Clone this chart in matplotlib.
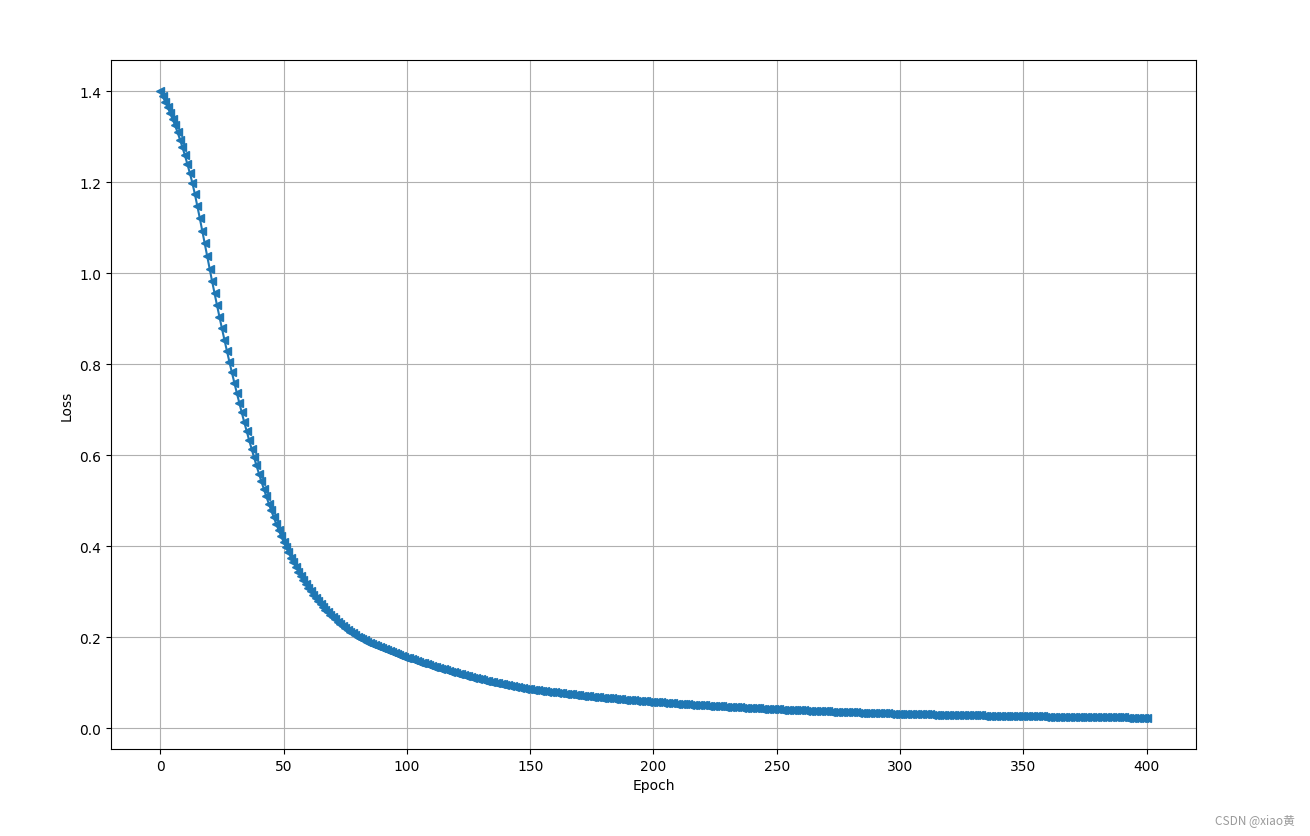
import numpy as np
import matplotlib
matplotlib.use("Agg")
import matplotlib.pyplot as plt

# Loss values, one per epoch (0..400)
loss_0_99 = [
    1.400, 1.389, 1.377, 1.365, 1.352, 1.339, 1.325, 1.310, 1.294, 1.277,
    1.259, 1.240, 1.220, 1.199, 1.175, 1.149, 1.122, 1.094, 1.066, 1.038,
    1.010, 0.983, 0.956, 0.930, 0.904, 0.879, 0.854, 0.830, 0.806, 0.783,
    0.760, 0.738, 0.716, 0.695, 0.674, 0.654, 0.634, 0.615, 0.596, 0.578,
    0.560, 0.543, 0.526, 0.510, 0.494, 0.479, 0.464, 0.450, 0.436, 0.423,
    0.410, 0.3980, 0.3865, 0.3754, 0.3647, 0.3544, 0.3445, 0.3350, 0.3259, 0.3172,
    0.3089, 0.3010, 0.2935, 0.2864, 0.2796, 0.2731, 0.2669, 0.2609, 0.2552, 0.2497,
    0.2444, 0.2393, 0.2344, 0.2297, 0.2252, 0.2209, 0.2168, 0.2128, 0.2090, 0.2053,
    0.2018, 0.1988, 0.1959, 0.1931, 0.1904, 0.1878, 0.1852, 0.1827, 0.1803, 0.1779,
    0.1756, 0.1734, 0.1712, 0.1691, 0.1670, 0.1650, 0.1630, 0.1611, 0.1592, 0.1574,
]
loss_100_199 = [
    0.1556, 0.1537, 0.1518, 0.1500, 0.1482, 0.1464, 0.1446, 0.1428, 0.1410, 0.1393,
    0.1376, 0.1359, 0.1342, 0.1326, 0.1310, 0.1294, 0.1278, 0.1262, 0.1246, 0.1231,
    0.1216, 0.1201, 0.1186, 0.1172, 0.1158, 0.1144, 0.1130, 0.1116, 0.1102, 0.1089,
    0.1076, 0.1063, 0.1050, 0.1038, 0.1026, 0.1014, 0.1002, 0.0990, 0.0978, 0.0967,
    0.0956, 0.0945, 0.0934, 0.0924, 0.0914, 0.0904, 0.0894, 0.0884, 0.0874, 0.0865,
    0.0856, 0.0849, 0.0842, 0.0835, 0.0828, 0.0822, 0.0815, 0.0808, 0.0802, 0.0795,
    0.0789, 0.0783, 0.0776, 0.0770, 0.0764, 0.0758, 0.0752, 0.0746, 0.0740, 0.0734,
    0.0728, 0.0722, 0.0717, 0.0711, 0.0705, 0.0700, 0.0694, 0.0689, 0.0684, 0.0678,
    0.0673, 0.0668, 0.0663, 0.0658, 0.0653, 0.0648, 0.0643, 0.0638, 0.0633, 0.0629,
    0.0624, 0.0619, 0.0615, 0.0610, 0.0606, 0.0602, 0.0597, 0.0593, 0.0589, 0.0585,
]
loss_200_299 = [
    0.0581, 0.0577, 0.0573, 0.0569, 0.0565, 0.0561, 0.0558, 0.0554, 0.0550, 0.0546,
    0.0543, 0.0539, 0.0535, 0.0532, 0.0528, 0.0524, 0.0521, 0.0517, 0.0514, 0.0510,
    0.0507, 0.0504, 0.0500, 0.0497, 0.0494, 0.0490, 0.0487, 0.0484, 0.0481, 0.0478,
    0.0475, 0.0471, 0.0468, 0.0465, 0.0462, 0.0459, 0.0456, 0.0454, 0.0451, 0.0448,
    0.0445, 0.0442, 0.0439, 0.0437, 0.0434, 0.0431, 0.0429, 0.0426, 0.0424, 0.0421,
    0.0419, 0.0417, 0.0414, 0.0412, 0.0409, 0.0407, 0.0404, 0.0402, 0.0400, 0.0397,
    0.0395, 0.0393, 0.0390, 0.0388, 0.0386, 0.0384, 0.0382, 0.0379, 0.0377, 0.0375,
    0.0373, 0.0371, 0.0369, 0.0367, 0.0365, 0.0363, 0.0361, 0.0359, 0.0357, 0.0355,
    0.0353, 0.0351, 0.0349, 0.0347, 0.0346, 0.0344, 0.0342, 0.0340, 0.0338, 0.0337,
    0.0335, 0.0333, 0.0332, 0.0330, 0.0328, 0.0327, 0.0325, 0.0324, 0.0322, 0.0321,
]
loss_300_400 = [
    0.03190, 0.03178, 0.03166, 0.03154, 0.03143, 0.03131, 0.03119, 0.03108, 0.03096, 0.03085,
    0.03074, 0.03062, 0.03051, 0.03040, 0.03029, 0.03018, 0.03007, 0.02996, 0.02985, 0.02975,
    0.02964, 0.02953, 0.02943, 0.02933, 0.02922, 0.02912, 0.02902, 0.02892, 0.02881, 0.02871,
    0.02862, 0.02852, 0.02842, 0.02832, 0.02822, 0.02813, 0.02803, 0.02794, 0.02785, 0.02775,
    0.02766, 0.02757, 0.02748, 0.02739, 0.02730, 0.02721, 0.02712, 0.02703, 0.02695, 0.02686,
    0.02678, 0.02669, 0.02661, 0.02652, 0.02644, 0.02636, 0.02628, 0.02620, 0.02612, 0.02604,
    0.02596, 0.02588, 0.02581, 0.02573, 0.02565, 0.02558, 0.02550, 0.02543, 0.02536, 0.02529,
    0.02522, 0.02514, 0.02507, 0.02501, 0.02494, 0.02487, 0.02480, 0.02474, 0.02467, 0.02460,
    0.02454, 0.02448, 0.02441, 0.02435, 0.02429, 0.02423, 0.02417, 0.02411, 0.02405, 0.02399,
    0.02394, 0.02388, 0.02382, 0.02377, 0.02371, 0.02366, 0.02361, 0.02355, 0.02350, 0.02345,
    0.02340,
]

loss = loss_0_99 + loss_100_199 + loss_200_299 + loss_300_400
epochs = np.arange(len(loss))

x_label = "Epoch"
y_label = "Loss"
watermark = "CSDN @xiao黄"

fig = plt.figure(figsize=(13.1, 8.37), dpi=100)
ax = fig.add_axes([0.0847, 0.1039, 0.8282, 0.8232])
ax.plot(epochs, loss, marker="<", color="#1f77b4")
ax.set_xlabel(x_label)
ax.set_ylabel(y_label)
ax.grid(True)

fig.text(0.9885, 0.0125, watermark, ha="right", va="bottom", fontsize=8.5,
         color="#9a9a9a", family=["Noto Sans CJK SC", "DejaVu Sans"])

fig.savefig("out.png", dpi=100)
